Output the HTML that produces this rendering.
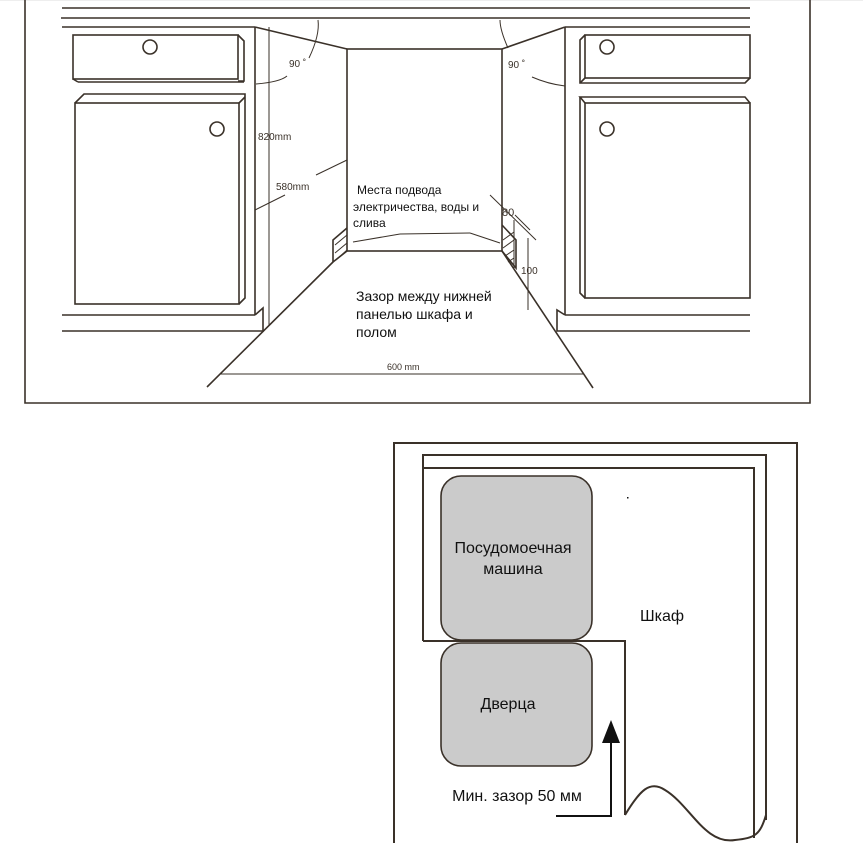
<!DOCTYPE html>
<html><head><meta charset="utf-8"><style>
html,body{margin:0;padding:0;background:#fff;}
svg{display:block;}
text{font-family:"Liberation Sans",sans-serif;}
</style></head><body>
<svg width="863" height="843" viewBox="0 0 863 843" xmlns="http://www.w3.org/2000/svg">
<rect x="0" y="0" width="863" height="1" fill="#eee"/>
<g stroke="#3a3129" stroke-width="1.6" fill="none">
<!-- top frame -->
<polyline points="25,0 25,403 810,403 810,0"/>
<line x1="62" y1="8" x2="750" y2="8"/>
<line x1="61" y1="18" x2="750" y2="18"/>
<line x1="62" y1="27" x2="255" y2="27"/>
<line x1="565" y1="27" x2="750" y2="27"/>
<!-- left cabinet -->
<line x1="255" y1="27" x2="255" y2="315"/>
<polyline points="255,315 62,315"/>
<polyline points="255,315 263,308 263,331 62,331"/>
<rect x="73" y="35" width="165" height="44"/>
<polyline points="238,35 244,41 244,81 238,81"/>
<line x1="73" y1="79" x2="78" y2="82"/><line x1="78" y1="82" x2="244" y2="82"/>
<rect x="75" y="103" width="164" height="201"/>
<polyline points="75,103 84,94 245,94 245,298 239,304"/>
<line x1="239" y1="103" x2="245" y2="97"/>
<circle cx="150" cy="47" r="7"/>
<circle cx="217" cy="129" r="7"/>
<!-- right cabinet -->
<line x1="565" y1="27" x2="565" y2="315"/>
<polyline points="565,315 750,315"/>
<polyline points="565,315 557,310 557,331 750,331"/>
<rect x="585" y="35" width="165" height="43"/>
<polyline points="585,35 580,40 580,83 745,83 750,78"/>
<line x1="580" y1="83" x2="585" y2="78"/>
<rect x="585" y="103" width="165" height="195"/>
<polyline points="585,103 580,97 745,97 750,103"/>
<polyline points="580,97 580,293 585,298"/>
<circle cx="607" cy="47" r="7"/>
<circle cx="607" cy="129" r="7"/>
<!-- opening -->
<rect x="347" y="49" width="155" height="202"/>
<line x1="255" y1="27" x2="347" y2="49"/>
<line x1="565" y1="27" x2="502" y2="49"/>
<!-- hatched blocks -->
<polyline points="347,228 333,240 333,262 347,251"/>
<polyline points="502,225 516,240 516,268 502,251"/>
<!-- floor -->
<line x1="333" y1="262" x2="207" y2="387"/>
<line x1="502" y1="251" x2="593" y2="388"/>
<!-- dims -->
<line x1="269" y1="27" x2="269" y2="325" stroke-width="1"/>
<line x1="220" y1="374" x2="584" y2="374" stroke-width="1"/>
<line x1="255" y1="210" x2="285" y2="195" stroke-width="1"/>
<line x1="316" y1="175" x2="347" y2="160" stroke-width="1"/>
<line x1="353" y1="242" x2="400" y2="234" stroke-width="1"/>
<line x1="400" y1="234" x2="470" y2="233" stroke-width="1"/>
<line x1="470" y1="233" x2="500" y2="243" stroke-width="1"/>
<line x1="490" y1="195" x2="536" y2="240" stroke-width="1"/>
<line x1="515" y1="215" x2="530" y2="230" stroke-width="1"/>
<line x1="514" y1="220" x2="514" y2="268" stroke-width="1"/>
<line x1="528" y1="238" x2="528" y2="310" stroke-width="1"/>
<path d="M256,84 Q280,82 287,76" stroke-width="1"/>
<path d="M309,58 Q320,35 318,20" stroke-width="1"/>
<path d="M532,77 Q548,84 565,86" stroke-width="1"/>
<path d="M508,48 Q500,30 500,20" stroke-width="1"/>
</g>
<g stroke="#3a3129" stroke-width="1">
<line x1="335" y1="245" x2="347" y2="235"/><line x1="335" y1="253" x2="347" y2="243"/><line x1="336" y1="260" x2="347" y2="250"/>
<line x1="503" y1="240" x2="514" y2="232"/><line x1="503" y1="248" x2="514" y2="240"/><line x1="505" y1="256" x2="514" y2="250"/><line x1="508" y1="262" x2="514" y2="258"/>
</g>
<g font-size="10" fill="#3a3129">
<text x="258" y="140">820mm</text>
<text x="276" y="190">580mm</text>
<text x="289" y="67">90 ˚</text>
<text x="508" y="68">90 ˚</text>
<text x="502" y="216" font-size="11">80</text>
<text x="521" y="274">100</text>
<text x="387" y="370" font-size="9">600 mm</text>
</g>
<g font-size="12" fill="#111">
<text x="357" y="194">Места подвода</text>
<text x="353" y="211">электричества, воды и</text>
<text x="353" y="227">слива</text>
</g>
<g font-size="14" fill="#111">
<text x="356" y="301">Зазор между нижней</text>
<text x="356" y="319">панелью шкафа и</text>
<text x="356" y="337">полом</text>
</g>
<!-- bottom diagram -->
<g stroke="#3a3129" stroke-width="2" fill="none">
<polyline points="394,843 394,443 797,443 797,843"/>
<polyline points="423,641 423,455 766,455 766,820"/>
<polyline points="423,468 754,468 754,838"/>
<polyline points="423,641 625,641 625,815"/>
<path d="M625,815 C640,790 650,780 665,790 C690,805 705,845 735,840 C755,838 760,835 766,815"/>
</g>
<rect x="441" y="476" width="151" height="164" rx="20" fill="#cbcbcb" stroke="#3a3129" stroke-width="1.6"/>
<rect x="441" y="643" width="151" height="123" rx="20" fill="#cbcbcb" stroke="#3a3129" stroke-width="1.6"/>
<polyline points="556,816 611,816 611,738" stroke="#111" stroke-width="2" fill="none"/>
<polygon points="602,743 620,743 611,720" fill="#111"/>
<rect x="627" y="497" width="1.5" height="1.5" fill="#111"/>
<g font-size="16" fill="#111" text-anchor="middle">
<text x="513" y="553">Посудомоечная</text>
<text x="513" y="574">машина</text>
<text x="508" y="709">Дверца</text>
<text x="662" y="621">Шкаф</text>
<text x="517" y="801">Мин. зазор 50 мм</text>
</g>
</svg>
</body></html>
